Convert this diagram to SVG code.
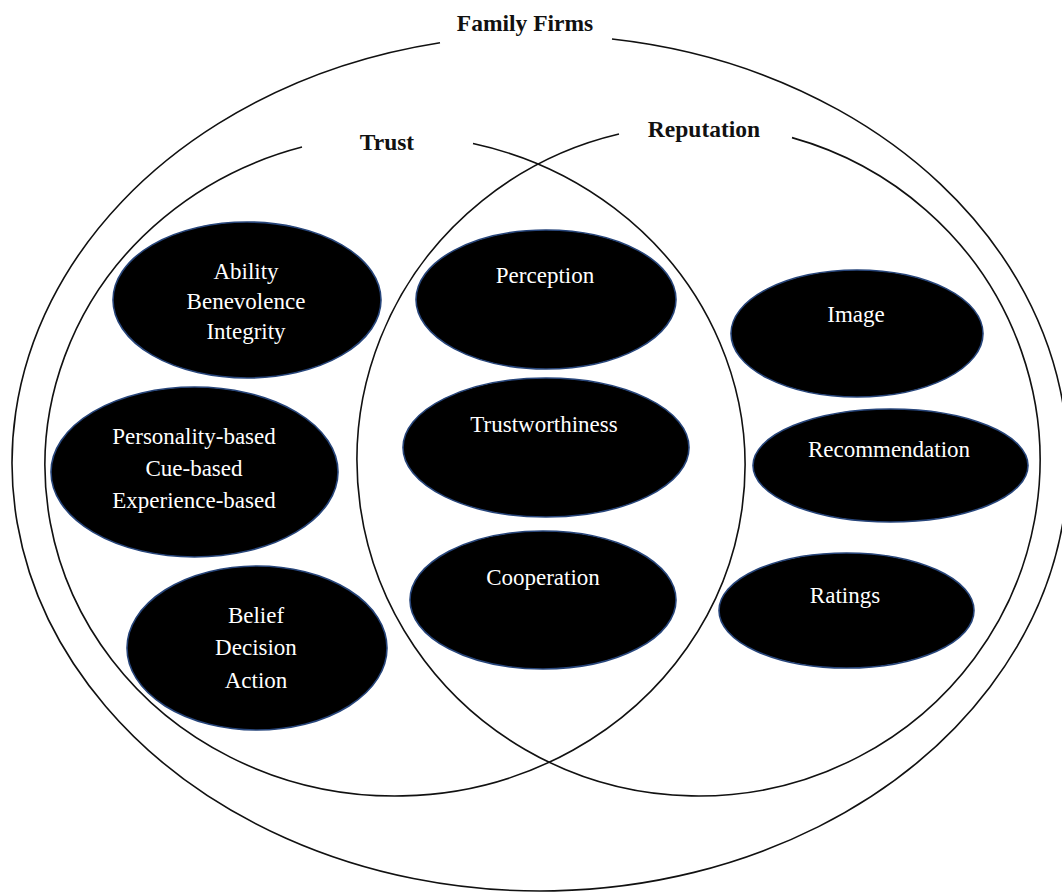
<svg xmlns="http://www.w3.org/2000/svg" width="1062" height="892" viewBox="0 0 1062 892">
<style>
.ring{fill:none;stroke:#111;stroke-width:1.6}
.title{font-family:"Liberation Serif","Times New Roman",serif;font-weight:bold;font-size:23.5px;fill:#111;text-anchor:middle}
.node ellipse{fill:#000;stroke:#27457a;stroke-width:1.6}
.node text{font-family:"Liberation Serif","Times New Roman",serif;font-size:23px;fill:#fff;text-anchor:middle}
</style>
<rect width="1062" height="892" fill="#fff"/>
<g id="sets">
  <g id="family-firms">
    <path class="ring" d="M440,42.75 A528,428 0 1 0 612,39"/>
    <text class="title" x="525" y="31">Family Firms</text>
  </g>
  <g id="trust">
    <path class="ring" d="M302,147.08 A350,330.4 0 1 0 473,143.51"/>
    <text class="title" x="387" y="150">Trust</text>
  </g>
  <g id="reputation">
    <path class="ring" d="M619,134.02 A341.5,335.6 0 1 0 792,137.62"/>
    <text class="title" x="704" y="137">Reputation</text>
  </g>
</g>
<g id="connectors"></g>
<g id="node-abi" class="node">
  <ellipse cx="247" cy="300" rx="134" ry="78"/>
  <text x="246" y="279">Ability</text>
  <text x="246" y="309">Benevolence</text>
  <text x="246" y="339">Integrity</text>
</g>
<g id="node-bases" class="node">
  <ellipse cx="194.5" cy="472" rx="143.5" ry="85"/>
  <text x="194" y="444">Personality-based</text>
  <text x="194" y="476">Cue-based</text>
  <text x="194" y="508">Experience-based</text>
</g>
<g id="node-bda" class="node">
  <ellipse cx="257" cy="648" rx="130" ry="82"/>
  <text x="256" y="623">Belief</text>
  <text x="256" y="655">Decision</text>
  <text x="256" y="688">Action</text>
</g>
<g id="node-perception" class="node">
  <ellipse cx="546" cy="299.5" rx="130" ry="69.5"/>
  <text x="545" y="283">Perception</text>
</g>
<g id="node-trustworthiness" class="node">
  <ellipse cx="546" cy="447.5" rx="143" ry="69.5"/>
  <text x="544" y="432">Trustworthiness</text>
</g>
<g id="node-cooperation" class="node">
  <ellipse cx="543" cy="600" rx="133" ry="69"/>
  <text x="543" y="585">Cooperation</text>
</g>
<g id="node-image" class="node">
  <ellipse cx="857" cy="333.5" rx="126" ry="63.5"/>
  <text x="856" y="322">Image</text>
</g>
<g id="node-recommendation" class="node">
  <ellipse cx="890.5" cy="465.5" rx="137.5" ry="56.5"/>
  <text x="889" y="457">Recommendation</text>
</g>
<g id="node-ratings" class="node">
  <ellipse cx="846.5" cy="610.5" rx="127.5" ry="57.5"/>
  <text x="845" y="603">Ratings</text>
</g>
</svg>
